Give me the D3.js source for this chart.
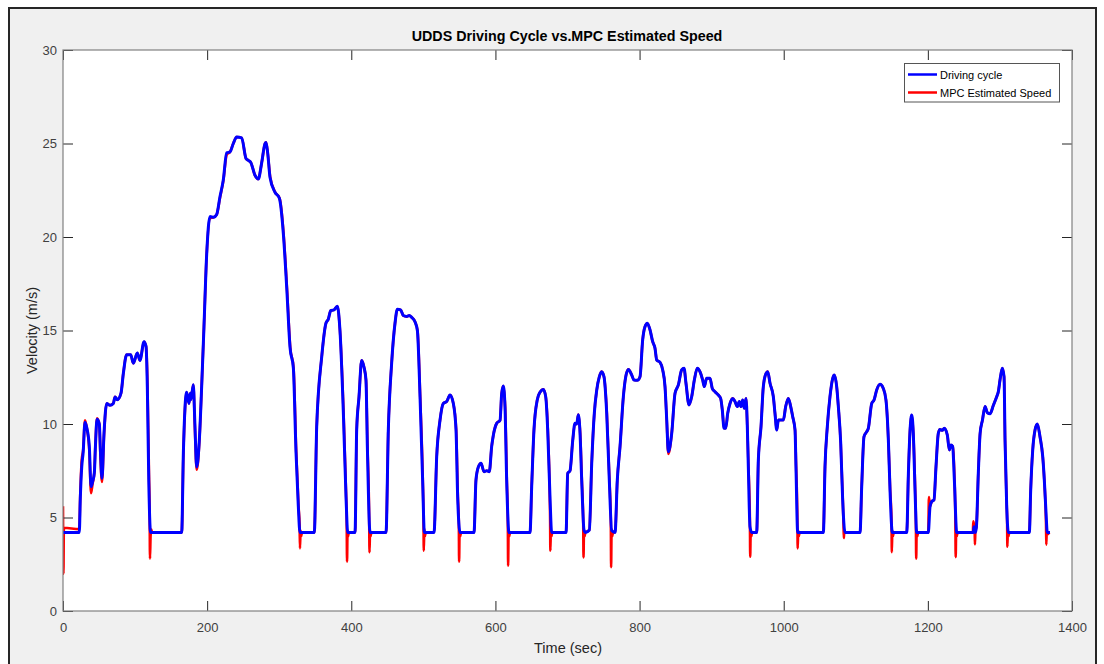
<!DOCTYPE html>
<html>
<head>
<meta charset="utf-8">
<script src="https://cdn.jsdelivr.net/npm/d3@7"></script>
<style>
  html, body { margin: 0; padding: 0; background: #ffffff; }
  svg { display: block; }
  text { font-family: "Liberation Sans", Arial, Helvetica, sans-serif; }
</style>
</head>
<body>
<svg id="chart" width="1104" height="664"></svg>
<script>
// ---------------- DATA ----------------
const chartTitle = "UDDS Driving Cycle vs.MPC Estimated Speed";
const xLabel = "Time (sec)";
const yLabel = "Velocity (m/s)";
const xTicks = [0, 200, 400, 600, 800, 1000, 1200, 1400];
const yTicks = [0, 5, 10, 15, 20, 25, 30];
const seriesNames = ["Driving cycle", "MPC Estimated Speed"];

// Driving cycle: [time (s), speed (m/s)]
const drivingCycle = [
  [0,4.2],[22.6,4.2],[24,6.0],[26,7.7],[28,8.5],[30.5,10.1],[33,9.8],[36.5,8.8],[38.9,6.65],[41,6.9],
  [43.5,7.4],[45,8.8],[47.2,10.25],[50.4,10.0],[52,8.5],[54.1,7.1],[56.9,9.5],[60.6,11.1],[65.2,11.0],[69.8,11.1],
  [72.2,11.45],[75.4,11.3],[80.5,11.65],[83.7,12.7],[88.3,13.7],[93.9,13.7],[97.6,13.25],[103.1,13.8],[106.8,13.4],[112.4,14.4],
  [115.2,14.15],[117,12.0],[119,7.0],[121.5,4.2],[164.7,4.2],[167,8.45],[171.6,11.7],[174.8,11.1],[176.6,11.65],[177.5,11.3],
  [180.8,12.1],[183,10.0],[185.5,7.7],[189.1,9.1],[192.4,12.0],[195.6,15.2],[199.4,19.1],[204,21.1],[208.7,21.05],[213.2,21.2],
  [217.8,22.15],[222.4,23.05],[227.1,24.5],[231.7,24.55],[236.3,25.0],[241,25.35],[247.9,25.3],[253.9,24.2],[257,24.1],[260.4,24.0],
  [266.4,23.3],[271,23.1],[275.6,23.95],[280.3,25.0],[281.7,25.06],[284,24.5],[287.2,23.2],[294,22.4],[300.2,22.07],[305.7,20.2],
  [310.4,17.3],[315,14.1],[319.6,13.0],[323.3,8.5],[326.5,5.6],[328.8,4.2],[348.7,4.2],[352,9.85],[359,13.6],[364.9,15.4],
  [368.1,15.6],[371.4,16.06],[376,16.1],[380.6,16.3],[384.3,15.0],[389,10.6],[392.7,6.1],[395,4.2],[405.2,4.2],[407.5,9.7],
  [410.7,11.45],[414.4,13.4],[417.6,13.05],[420.4,12.35],[422.3,8.8],[426,4.2],[448.2,4.2],[451.4,9.7],[456,13.25],[460.7,15.4],
  [463.9,16.13],[468.5,16.1],[472.2,15.8],[476.8,15.75],[480.5,15.8],[483.8,15.7],[488.4,15.47],[491.7,15.0],[495.4,11.45],[499,7.0],
  [501.4,4.2],[514.8,4.2],[518.5,8.25],[523.1,10.2],[527.7,11.1],[532.3,11.2],[537,11.55],[541.6,11.1],[545.3,9.7],[547.6,6.1],
  [550.9,4.2],[570.3,4.2],[573,7.0],[576.3,7.7],[580,7.9],[584.2,7.45],[588,7.5],[591.5,7.45],[594.8,8.8],[597.1,9.4],
  [601.8,10.04],[606.4,10.2],[608.7,11.64],[611,12.03],[613.3,10.9],[615.6,7.0],[618.8,4.2],[648,4.2],[650.3,6.65],[653.5,9.7],
  [658.1,11.3],[661.9,11.7],[666.5,11.85],[669.8,11.45],[672.5,9.7],[675.7,6.1],[678,4.2],[698,4.2],[700.3,7.36],[703.5,7.5],
  [707.2,9.1],[710.4,10.04],[712.7,10.0],[715,10.5],[717.4,9.5],[719.7,7.0],[722.9,4.33],[725,4.2],[730.3,4.33],[733.6,7.9],
  [737.2,10.57],[740.5,11.8],[744.2,12.53],[747.4,12.8],[750.6,12.53],[754.4,10.57],[758,7.0],[761.3,4.3],[766,4.2],[769.1,7.0],
  [772.9,8.8],[777.5,11.46],[780.8,12.53],[784.5,12.92],[789.1,12.62],[792.3,12.35],[796.9,12.34],[800.6,12.53],[804.3,14.5],[807.5,15.2],
  [810.8,15.39],[814.5,15.03],[818.2,14.4],[821.4,14.05],[823.8,13.42],[828.4,13.3],[832.1,12.89],[835.3,12.0],[837.7,10.2],[839.9,8.52],
  [844.6,9.5],[849.2,11.64],[853.8,12.09],[858.4,12.89],[861.7,12.98],[864.4,12.18],[868.6,11.02],[872.3,11.46],[876,12.35],[880.1,12.98],
  [883.8,12.8],[887.6,12.35],[889.8,12.0],[893.1,12.44],[897.7,12.44],[900.9,11.9],[904.6,11.73],[909.3,11.55],[912.5,11.37],[914.8,10.75],
  [917.2,9.77],[919.5,9.77],[922.3,10.57],[925.5,11.1],[929.2,11.37],[932.4,11.2],[935.6,10.93],[938.4,11.2],[940.7,10.93],[943,11.28],
  [945.3,10.84],[947.7,11.37],[949.5,9.86],[950.9,7.72],[953.2,4.5],[955.6,4.2],[962.5,4.2],[964.8,8.07],[968.5,9.86],[971.7,12.0],
  [975.5,12.71],[977.8,12.8],[981,12.18],[985.6,11.46],[987.9,10.57],[990.3,9.68],[992.6,10.21],[999.5,10.21],[1002.7,10.93],[1006.4,11.37],
  [1009.7,10.93],[1012.5,10.39],[1015.7,9.68],[1017,7.72],[1019.4,4.2],[1055,4.2],[1057.3,7.72],[1060.5,9.86],[1064.2,11.46],[1068,12.44],
  [1070.2,12.62],[1073.5,12.0],[1075.8,10.93],[1079.1,8.97],[1081.8,5.94],[1085,4.2],[1105.9,4.2],[1108.2,6.65],[1111.4,9.32],[1115.2,9.59],
  [1117.4,9.77],[1122.1,11.1],[1125.3,11.28],[1129,11.82],[1133.6,12.12],[1138.2,11.9],[1141.9,11.28],[1145.2,9.14],[1147.5,6.47],[1150.7,4.2],
  [1170.7,4.2],[1173,7.36],[1175.3,9.68],[1177.6,10.48],[1179.8,9.5],[1182.2,6.47],[1184.5,4.2],[1200.6,4.2],[1203,5.58],[1205.3,5.85],
  [1208.5,5.94],[1211.3,7.72],[1214.5,9.5],[1216.8,9.71],[1220,9.66],[1222.8,9.77],[1227,9.41],[1229.8,8.61],[1232.1,8.88],[1234.4,8.8],
  [1236.8,7.0],[1240,4.2],[1263,4.2],[1264,4.5],[1266,4.2],[1267.4,4.5],[1270,7.36],[1272.5,9.5],[1275.7,10.2],[1279.4,10.93],
  [1282.6,10.6],[1286.3,10.55],[1290.9,11.0],[1295.5,11.46],[1297.8,11.73],[1300.1,12.35],[1303.3,12.98],[1305.7,12.53],[1307.1,9.14],[1309.4,5.58],
  [1311.7,4.2],[1340.8,4.2],[1342.7,6.47],[1345.5,8.61],[1348.7,9.68],[1351.9,10.0],[1355.6,9.32],[1359.4,8.25],[1361.6,7.0],[1364,5.22],
  [1365.7,4.2],[1369.5,4.2]
];

// MPC estimated speed: [time (s), speed (m/s)]
const mpcSpeed = [
  [0,5.6],[0.6,2.0],[1.2,4.45],[22.6,4.38],[24,6.3],[26,8.1],[28,8.6],[30.5,10.2],[33,9.8],[36.5,8.6],
  [38.9,6.3],[41,6.8],[43.5,7.4],[45,8.9],[47.2,10.3],[50.4,10.0],[52,8.2],[54.1,6.9],[56.9,9.4],[60.6,11.1],
  [65.2,11.0],[69.8,11.1],[72.2,11.45],[75.4,11.3],[80.5,11.65],[83.7,12.7],[88.3,13.7],[93.9,13.7],[97.6,13.25],[103.1,13.8],
  [106.8,13.4],[112.4,14.4],[115.2,14.15],[117.3,12.0],[119.3,7.3],[120.2,5.4],[120.7,2.8],[121.5,4.0],[122.5,4.35],[123.5,4.2],
  [164.7,4.2],[167,8.3],[171.6,11.7],[174.8,11.1],[176.6,11.65],[177.5,11.3],[180.8,12.1],[183,9.8],[185.5,7.55],[189.1,9.0],
  [192.4,12.0],[195.6,15.2],[199.4,19.1],[204,21.0],[208.7,21.05],[213.2,21.2],[217.8,22.1],[222.4,23.0],[227.1,24.4],[231.7,24.55],
  [236.3,25.0],[241,25.35],[247.9,25.3],[253.9,24.2],[257,24.1],[260.4,24.0],[266.4,23.3],[271,23.1],[275.6,23.95],[280.3,25.0],
  [281.7,25.06],[284,24.5],[287.5,23.2],[294.3,22.4],[300.5,22.07],[306,20.2],[310.7,17.3],[315.3,14.1],[319.9,13.0],[323.6,8.5],
  [326.8,5.6],[328.3,4.6],[328.8,3.35],[329.6,4.3],[330.5,4.0],[331.5,4.2],[348.7,4.2],[352,9.85],[359,13.6],[364.9,15.4],
  [368.1,15.6],[371.4,16.06],[376,16.1],[380.6,16.3],[384.3,15.0],[389.3,10.6],[392.9,6.1],[393.6,5.0],[394.1,2.64],[394.8,4.3],
  [395.6,4.0],[396.5,4.2],[405.2,4.2],[407.5,9.7],[410.7,11.45],[414.4,13.4],[417.6,13.05],[420.4,12.35],[422.5,8.8],[424.8,5.0],
  [425.3,3.14],[426,4.3],[426.8,4.0],[427.8,4.2],[448.2,4.2],[451.4,9.7],[456,13.25],[460.7,15.4],[463.9,16.13],[468.5,16.1],
  [472.2,15.8],[476.8,15.75],[480.5,15.8],[483.8,15.7],[488.4,15.47],[491.9,15.0],[495.6,11.45],[499.2,7.0],[500.2,5.0],[500.6,3.22],
  [501.3,4.4],[502.2,4.0],[503.2,4.2],[514.8,4.2],[518.5,8.25],[523.1,10.2],[527.7,11.1],[532.3,11.2],[537,11.55],[541.6,11.1],
  [545.5,9.7],[547.9,6.1],[549.2,4.8],[549.6,2.64],[550.3,4.3],[551.2,4.0],[552.2,4.2],[570.3,4.2],[573,7.0],[576.3,7.7],
  [580,7.9],[584.2,7.45],[588,7.5],[591.5,7.45],[594.8,8.8],[597.1,9.4],[601.8,10.04],[606.4,10.2],[608.7,11.64],[611,12.03],
  [613.5,10.9],[615.8,7.0],[617.2,4.8],[617.6,2.42],[618.3,4.3],[619.2,4.0],[620.2,4.2],[648,4.2],[650.3,6.65],[653.5,9.7],
  [658.1,11.3],[661.9,11.7],[666.5,11.85],[669.8,11.45],[672.7,9.7],[675.4,6.1],[675.9,4.8],[676.2,3.22],[676.9,4.3],[677.8,4.0],
  [678.8,4.2],[698,4.2],[700.3,7.36],[703.5,7.5],[707.2,9.1],[710.4,10.04],[712.7,10.0],[715,10.5],[717.6,9.5],[719.9,7.0],
  [721.8,4.8],[722.2,2.87],[722.9,4.3],[723.8,4.0],[724.8,4.2],[730.3,4.33],[733.6,7.9],[737.2,10.57],[740.5,11.8],[744.2,12.53],
  [747.4,12.8],[750.6,12.53],[754.6,10.57],[758.2,7.0],[760.1,4.8],[760.5,2.34],[761.2,4.4],[762.1,4.0],[763.1,4.2],[766,4.2],
  [769.1,7.0],[772.9,8.8],[777.5,11.46],[780.8,12.53],[784.5,12.92],[789.1,12.62],[792.3,12.35],[796.9,12.34],[800.6,12.53],[804.3,14.5],
  [807.5,15.2],[810.8,15.39],[814.5,15.03],[818.2,14.4],[821.4,14.05],[823.8,13.42],[828.4,13.3],[832.1,12.89],[835.3,12.0],[837.7,10.2],
  [839.9,8.4],[844.6,9.5],[849.2,11.64],[853.8,12.09],[858.4,12.89],[861.7,12.98],[864.4,12.18],[868.6,11.02],[872.3,11.46],[876,12.35],
  [880.1,12.98],[883.8,12.8],[887.6,12.35],[889.8,12.0],[893.1,12.44],[897.7,12.44],[900.9,11.9],[904.6,11.73],[909.3,11.55],[912.5,11.37],
  [914.8,10.75],[917.2,9.77],[919.5,9.77],[922.3,10.57],[925.5,11.1],[929.2,11.37],[932.4,11.2],[935.6,10.93],[938.4,11.2],[940.7,10.93],
  [943,11.28],[945.3,10.84],[947.7,11.37],[949.5,9.86],[951.1,7.72],[953.1,4.8],[953.5,2.9],[954.2,4.3],[955.1,4.0],[956.1,4.2],
  [962.5,4.2],[964.8,8.07],[968.5,9.86],[971.7,12.0],[975.5,12.71],[977.8,12.8],[981,12.18],[985.6,11.46],[987.9,10.57],[990.3,9.68],
  [992.6,10.21],[999.5,10.21],[1002.7,10.93],[1006.4,11.37],[1009.7,10.93],[1012.5,10.39],[1015.7,9.68],[1017.2,7.72],[1019,4.8],[1019.4,3.35],
  [1020.1,4.3],[1021,4.0],[1022,4.2],[1055,4.2],[1057.3,7.72],[1060.5,9.86],[1064.2,11.46],[1068,12.44],[1070.2,12.62],[1073.5,12.0],
  [1075.8,10.93],[1079.1,8.97],[1082,5.94],[1083,4.6],[1083.4,3.9],[1084.1,4.3],[1085,4.2],[1105.9,4.2],[1108.2,6.65],[1111.4,9.32],
  [1115.2,9.59],[1117.4,9.77],[1122.1,11.1],[1125.3,11.28],[1129,11.82],[1133.6,12.12],[1138.2,11.9],[1141.9,11.28],[1145.2,9.14],[1147.7,6.47],
  [1149.6,4.8],[1150,3.15],[1150.7,4.3],[1151.6,4.0],[1152.6,4.2],[1170.7,4.2],[1173,7.36],[1175.3,9.68],[1177.6,10.48],[1179.8,9.5],
  [1182.4,6.47],[1183.4,4.8],[1183.8,2.8],[1184.5,4.3],[1185.4,4.0],[1186.4,4.2],[1200.6,4.2],[1201.5,6.1],[1203,5.6],[1205.3,5.85],
  [1208.5,5.94],[1211.3,7.72],[1214.5,9.5],[1216.8,9.71],[1220,9.66],[1222.8,9.77],[1227,9.41],[1229.8,8.61],[1232.1,8.88],[1234.4,8.8],
  [1237,7.0],[1238.2,4.8],[1238.6,2.88],[1239.3,4.3],[1240.2,4.0],[1241.2,4.2],[1262.5,4.2],[1263,4.8],[1264,4.6],[1265,4.3],
  [1265.3,3.57],[1266,4.3],[1267.4,4.5],[1270,7.36],[1272.5,9.5],[1275.7,10.2],[1279.4,10.93],[1282.6,10.6],[1286.3,10.55],[1290.9,11.0],
  [1295.5,11.46],[1297.8,11.73],[1300.1,12.35],[1303.3,12.98],[1305.7,12.53],[1307.1,9.14],[1309.5,5.58],[1310,4.8],[1310.3,3.44],[1311,4.3],
  [1311.9,4.0],[1312.9,4.2],[1340.8,4.2],[1342.7,6.47],[1345.5,8.61],[1348.7,9.68],[1351.9,10.0],[1355.6,9.32],[1359.4,8.25],[1361.6,7.0],
  [1363.6,5.22],[1364,4.6],[1364.3,3.55],[1365,4.3],[1366,4.1],[1368.5,4.2]
];

// ---------------- DRAW ----------------
const svg = d3.select("#chart");

// figure background + frame
svg.append("rect").attr("x", 9).attr("y", 8).attr("width", 1087).attr("height", 670)
  .attr("fill", "#f0f0f0").attr("stroke", "#262626").attr("stroke-width", 2);

const plot = { left: 63, right: 1072, top: 50, bottom: 611 };
const x = d3.scaleLinear().domain([0, 1400]).range([plot.left, plot.right]);
const y = d3.scaleLinear().domain([0, 30]).range([plot.bottom, plot.top]);

// axes background
svg.append("rect").attr("x", plot.left).attr("y", plot.top)
  .attr("width", plot.right - plot.left).attr("height", plot.bottom - plot.top)
  .attr("fill", "#ffffff");

svg.append("clipPath").attr("id", "clip").append("rect")
  .attr("x", plot.left).attr("y", plot.top)
  .attr("width", plot.right - plot.left).attr("height", plot.bottom - plot.top);

const line = d3.line().x(d => x(d[0])).y(d => y(d[1])).curve(d3.curveMonotoneX);

const g = svg.append("g").attr("clip-path", "url(#clip)");
g.append("path").datum(mpcSpeed).attr("d", line)
  .attr("fill", "none").attr("stroke", "#ff0000").attr("stroke-width", 2.6)
  .attr("stroke-linejoin", "round");
g.append("path").datum(drivingCycle).attr("d", line)
  .attr("fill", "none").attr("stroke", "#0000ff").attr("stroke-width", 3)
  .attr("stroke-linejoin", "round");

function styleAxis(sel, showText) {
  sel.select(".domain").remove();
  sel.selectAll(".tick line").attr("stroke", "#262626").attr("stroke-width", 1);
  sel.selectAll(".tick text").attr("fill", "#404040")
    .style("font-size", "13px")
    .style("font-family", "'Liberation Sans', Arial, sans-serif");
  if (!showText) sel.selectAll(".tick text").remove();
}

const fmt = d3.format("d");
svg.append("g").attr("transform", `translate(0,${plot.bottom})`)
  .call(d3.axisBottom(x).tickValues(xTicks).tickFormat(fmt).tickSize(-10).tickPadding(12))
  .call(s => styleAxis(s, true));
svg.append("g").attr("transform", `translate(0,${plot.top})`)
  .call(d3.axisTop(x).tickValues(xTicks).tickSize(-10))
  .call(s => styleAxis(s, false));
svg.append("g").attr("transform", `translate(${plot.left},0)`)
  .call(d3.axisLeft(y).tickValues(yTicks).tickFormat(fmt).tickSize(-10).tickPadding(6))
  .call(s => styleAxis(s, true));
svg.append("g").attr("transform", `translate(${plot.right},0)`)
  .call(d3.axisRight(y).tickValues(yTicks).tickSize(-10))
  .call(s => styleAxis(s, false));

// box
svg.append("rect").attr("x", plot.left).attr("y", plot.top)
  .attr("width", plot.right - plot.left).attr("height", plot.bottom - plot.top)
  .attr("fill", "none").attr("stroke", "#808080").attr("stroke-width", 1.2);

// title
svg.append("text").attr("x", 567).attr("y", 41)
  .attr("text-anchor", "middle").style("font-size", "14.3px").style("font-weight", "bold")
  .attr("fill", "#000").text(chartTitle);

// axis labels
svg.append("text").attr("x", 568).attr("y", 653)
  .attr("text-anchor", "middle").style("font-size", "14.5px").attr("fill", "#262626").text(xLabel);
svg.append("text").attr("transform", `translate(37,${(plot.top + plot.bottom) / 2}) rotate(-90)`)
  .attr("text-anchor", "middle").style("font-size", "14.5px").attr("fill", "#262626").text(yLabel);

// legend
const lg = svg.append("g");
lg.append("rect").attr("x", 904.5).attr("y", 63.5).attr("width", 155).attr("height", 38.5)
  .attr("fill", "#ffffff").attr("stroke", "#555").attr("stroke-width", 1);
const legendColors = ["#0000ff", "#ff0000"];
seriesNames.forEach((name, i) => {
  const yy = 74.5 + i * 18;
  lg.append("line").attr("x1", 908).attr("x2", 937).attr("y1", yy).attr("y2", yy)
    .attr("stroke", legendColors[i]).attr("stroke-width", 2.5);
  lg.append("text").attr("x", 940).attr("y", yy + 4).style("font-size", "11px")
    .attr("fill", "#000").text(name);
});
</script>
</body>
</html>
